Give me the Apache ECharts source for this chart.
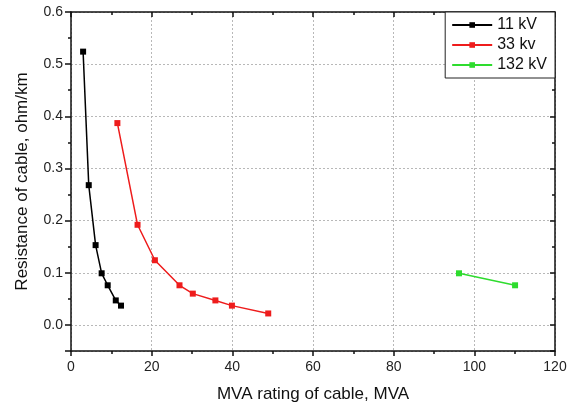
<!DOCTYPE html>
<html>
<head>
<meta charset="utf-8">
<script src="https://cdn.jsdelivr.net/npm/echarts@6/dist/echarts.min.js"></script>
<style>
  html, body { margin: 0; padding: 0; background: #fff; }
  #chart { width: 577px; height: 408px; }
</style>
</head>
<body>
<div id="chart"></div>
<script>
// values: [MVA, ohm/km]
const kv11 = [
  [3.0, 0.524], [4.4, 0.268], [6.1, 0.153], [7.6, 0.099],
  [9.1, 0.076], [11.1, 0.047], [12.4, 0.037]
];
const kv33 = [
  [11.5, 0.387], [16.5, 0.192], [20.8, 0.124], [26.9, 0.076],
  [30.2, 0.060], [35.8, 0.047], [39.9, 0.037], [48.9, 0.022]
];
const kv132 = [
  [96.2, 0.099], [110.1, 0.076]
];
const seriesNames = ['11 kV', '33 kv', '132 kV'];

const font = 'Liberation Sans, Arial, sans-serif';
const gridLine = { show: true, lineStyle: { color: '#b8b8b8', type: [2, 2], width: 1 } };

function mkSeries(name, data, color) {
  return {
    name: name,
    type: 'line',
    data: data,
    symbol: 'rect',
    symbolSize: 6,
    lineStyle: { color: color, width: 1.5 },
    itemStyle: { color: color },
    xAxisIndex: 0,
    yAxisIndex: 0,
    z: 5
  };
}

// y axis runs from -0.05 so ticks are left to the nice-tick logic (step 0.1 from 0)
const yLabel = function (v) { return v < -0.01 ? '' : v.toFixed(1); };

const chart = echarts.init(document.getElementById('chart'));
chart.setOption({
  animation: false,
  backgroundColor: '#fff',
  grid: { left: 71, right: 22, top: 12, bottom: 56 },
  legend: {
    data: seriesNames,
    orient: 'vertical',
    right: 22,
    top: 12,
    backgroundColor: '#fff',
    borderColor: '#222',
    borderWidth: 1,
    borderRadius: 0,
    padding: [5, 8, 5, 6],
    itemGap: 4,
    itemWidth: 40,
    itemHeight: 7,
    textStyle: { fontFamily: font, fontSize: 16, color: '#111' },
    z: 10
  },
  xAxis: [
    {
      type: 'value',
      min: 0, max: 120, interval: 20,
      name: 'MVA rating of cable, MVA',
      nameLocation: 'middle',
      nameGap: 35,
      nameTextStyle: { fontFamily: font, fontSize: 17, color: '#111' },
      axisLine: { show: true, onZero: false, lineStyle: { color: '#111', width: 1.5 } },
      axisTick: { show: true, inside: false, length: 5, lineStyle: { color: '#111', width: 1.5 } },
      minorTick: { show: true, splitNumber: 2, length: 3, lineStyle: { color: '#111', width: 1.5 } },
      axisLabel: { fontFamily: font, fontSize: 14, color: '#222', margin: 9 },
      splitLine: gridLine
    },
    {
      type: 'value',
      position: 'top',
      min: 0, max: 120, interval: 20,
      axisLine: { show: true, onZero: false, lineStyle: { color: '#111', width: 1.5 } },
      axisTick: { show: true, inside: true, length: 5, lineStyle: { color: '#111', width: 1.5 } },
      minorTick: { show: true, splitNumber: 2, length: 3, lineStyle: { color: '#111', width: 1.5 } },
      axisLabel: { show: false },
      splitLine: { show: false }
    }
  ],
  yAxis: [
    {
      type: 'value',
      min: -0.05, max: 0.6, splitNumber: 6,
      name: 'Resistance of cable, ohm/km',
      nameLocation: 'middle',
      nameGap: 40,
      nameTextStyle: { fontFamily: font, fontSize: 17, color: '#111' },
      axisLine: { show: true, onZero: false, lineStyle: { color: '#111', width: 1.5 } },
      axisTick: { show: true, inside: false, length: 6, lineStyle: { color: '#111', width: 1.5 } },
      minorTick: { show: true, splitNumber: 2, length: 3, lineStyle: { color: '#111', width: 1.5 } },
      axisLabel: { fontFamily: font, fontSize: 14, color: '#222', margin: 8, formatter: yLabel },
      splitLine: gridLine
    },
    {
      type: 'value',
      position: 'right',
      min: -0.05, max: 0.6, splitNumber: 6,
      axisLine: { show: true, onZero: false, lineStyle: { color: '#111', width: 1.5 } },
      axisTick: { show: true, inside: true, length: 5, lineStyle: { color: '#111', width: 1.5 } },
      minorTick: { show: true, splitNumber: 2, length: 3, lineStyle: { color: '#111', width: 1.5 } },
      axisLabel: { show: false },
      splitLine: { show: false }
    }
  ],
  series: [
    mkSeries(seriesNames[0], kv11, '#000000'),
    mkSeries(seriesNames[1], kv33, '#ee1c1c'),
    mkSeries(seriesNames[2], kv132, '#2edc2e')
  ]
});
</script>
</body>
</html>
